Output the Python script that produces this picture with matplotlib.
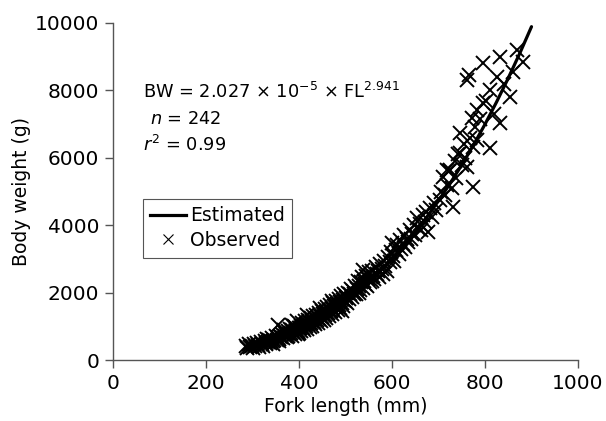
import matplotlib
matplotlib.use('Agg')
import matplotlib.pyplot as plt
from matplotlib.lines import Line2D

# ==========================================
# DATA
# ==========================================
# fitted curve BW = 2.027e-5 * FL^2.941, sampled
fl_est = [285, 300, 325, 350, 375, 400, 425, 450, 475, 500, 525, 550, 575,
          600, 625, 650, 675, 700, 725, 750, 775, 800, 825, 850, 875, 900]
bw_est = [336, 391, 495, 615, 753, 911, 1088, 1288, 1510, 1755, 2027, 2323, 2649,
          3001, 3387, 3799, 4246, 4725, 5239, 5789, 6373, 6995, 7660, 8365, 9107, 9891]

# observed fish, small ones
fl_small = [285, 288, 292, 295, 298, 300, 303, 306, 310, 312,
            315, 318, 320, 323, 326, 328, 330, 333, 335, 338,
            340, 342, 345, 347, 350, 352, 354, 355, 358, 360,
            362, 364, 366, 368, 370, 372, 374, 376, 378, 380,
            382, 384, 386, 388, 390, 391, 393, 395, 396, 398,
            399, 400, 345, 357, 367, 377, 385, 392, 397, 331]
bw_small = [420, 350, 470, 390, 430, 360, 470, 420, 500, 440,
            390, 520, 470, 430, 560, 500, 460, 540, 600, 510,
            570, 640, 550, 600, 700, 580, 650, 1040, 620, 720,
            690, 760, 650, 820, 720, 780, 690, 850, 760, 930,
            800, 720, 880, 820, 1000, 760, 900, 840, 1150, 870,
            960, 800, 480, 560, 900, 700, 1050, 980, 780, 620]

fl_mid = [402, 404, 405, 407, 408, 410, 411, 413, 414, 416,
          417, 419, 420, 422, 423, 425, 426, 428, 429, 431,
          432, 434, 435, 437, 438, 440, 441, 443, 444, 446,
          447, 449, 450, 452, 453, 455, 456, 458, 459, 461,
          462, 464, 465, 467, 468, 470, 471, 473, 474, 476,
          477, 479, 480, 482, 483, 485, 486, 488, 489, 491,
          492, 494, 495, 497, 498, 500, 418, 445, 470, 493]
bw_mid = [950, 1020, 870, 1100, 960, 1040, 890, 1150, 1000, 1080,
          930, 1200, 1060, 1130, 980, 1250, 1090, 1170, 1010, 1300,
          1140, 1220, 1060, 1350, 1180, 1260, 1110, 1400, 1230, 1320,
          1150, 1450, 1290, 1370, 1200, 1500, 1330, 1420, 1250, 1560,
          1380, 1480, 1310, 1620, 1440, 1530, 1360, 1680, 1490, 1600,
          1420, 1750, 1560, 1650, 1480, 1820, 1620, 1720, 1540, 1900,
          1680, 1790, 1600, 1950, 1740, 1850, 1350, 1550, 1750, 1450]

fl_large = [502, 504, 506, 508, 510, 512, 514, 516, 518, 520,
            522, 524, 526, 528, 530, 532, 534, 536, 538, 540,
            542, 544, 546, 548, 550, 552, 554, 556, 558, 560,
            562, 565, 567, 570, 572, 575, 578, 580, 583, 586,
            589, 592, 595, 598, 538,
            600, 602, 605, 608, 611, 614, 617, 620, 623, 626,
            629, 632, 635, 638, 641, 644, 647, 650, 654, 657,
            660, 663, 666, 670, 673, 677, 681, 685, 690, 695]
bw_large = [1900, 1700, 2000, 1820, 1950, 2100, 1880, 2050, 1960, 2200,
            1950, 2100, 2350, 2000, 2200, 2080, 2300, 2450, 2150, 2350,
            2250, 2500, 2200, 2400, 2600, 2300, 2450, 2350, 2650, 2500,
            2400, 2750, 2550, 2650, 2450, 2850, 2700, 2550, 2950, 2800,
            2650, 3050, 2900, 3200, 2670,
            3470, 3100, 2950, 3250, 3400, 3150, 3550, 3300, 3450, 3700,
            3350, 3600, 3500, 3850, 3600, 3750, 4000, 3700, 4210, 3900,
            4050, 3850, 4300, 4100, 4400, 3800, 4500, 4250, 4650, 4450]

fl_big = [703, 706, 710, 714, 718, 722, 725, 728, 731, 735,
          738, 742, 746, 746, 750, 755, 758, 761, 761, 765,
          768, 772, 774, 774, 778, 783, 783, 790, 796, 796,
          803, 811, 820, 826, 832, 832, 840, 854, 860, 869,
          882, 811, 718]
bw_big = [4750, 5000, 5430, 4900, 5200, 5600, 5640, 5100, 4540, 5900,
          5400, 6100, 6140, 6740, 5800, 6400, 6000, 5730, 8300, 8450,
          6600, 7180, 6320, 5130, 6900, 7420, 6530, 7150, 7620, 8800,
          7700, 8000, 7300, 8400, 9000, 7030, 8200, 7800, 8550, 9200,
          8850, 6290, 5640]

fl_obs = fl_small + fl_mid + fl_large + fl_big
bw_obs = bw_small + bw_mid + bw_large + bw_big

x_ticks = [0, 200, 400, 600, 800, 1000]
y_ticks = [0, 2000, 4000, 6000, 8000, 10000]

# ==========================================
# PLOT
# ==========================================
plt.rcParams['font.family'] = ['DejaVu Sans']
plt.rcParams['mathtext.fontset'] = 'dejavusans'

fig = plt.figure(figsize=(6.06, 4.21), dpi=100)
ax = fig.add_axes([113 / 606, 1 - 360 / 421, 465 / 606, 337 / 421])

ax.plot(fl_obs, bw_obs, linestyle='none', marker='x', color='black',
        markersize=10, markeredgewidth=1.4, zorder=2)
ax.plot(fl_est, bw_est, color='black', linewidth=2.3, zorder=3,
        solid_capstyle='round')

ax.set_xlim(0, 1000)
ax.set_ylim(0, 10000)
ax.set_xticks(x_ticks)
ax.set_yticks(y_ticks)
ax.tick_params(direction='out', length=6, width=1, color='#555555',
               labelsize=14.5, pad=4)
for side in ['top', 'right']:
    ax.spines[side].set_visible(False)
for side in ['left', 'bottom']:
    ax.spines[side].set_color('#555555')
    ax.spines[side].set_linewidth(1)

ax.set_xlabel('Fork length (mm)', fontsize=13.5, labelpad=3)
ax.set_ylabel('Body weight (g)', fontsize=13.5, labelpad=3)

ax.text(65, 7950, r'BW = 2.027 $\times$ 10$^{-5}$ $\times$ FL$^{2.941}$',
        fontsize=12.8, va='center', ha='left')
ax.text(80, 7150, r'$n$ = 242', fontsize=12.8, va='center', ha='left')
ax.text(65, 6380, r'$r^2$ = 0.99', fontsize=12.8, va='center', ha='left')

handles = [Line2D([], [], color='black', linewidth=2.3),
           Line2D([], [], color='black', marker='x', linestyle='none',
                  markersize=7, markeredgewidth=0.8)]
leg = ax.legend(handles, ['Estimated', 'Observed'], loc='upper left',
                bbox_to_anchor=(0.064, 0.478), borderaxespad=0,
                fancybox=False, edgecolor='#555555', fontsize=13.5,
                handlelength=1.9, handletextpad=0.2, borderpad=0.4,
                labelspacing=0.3, framealpha=1)
leg.get_frame().set_linewidth(0.8)

fig.savefig('out.png', dpi=100)
